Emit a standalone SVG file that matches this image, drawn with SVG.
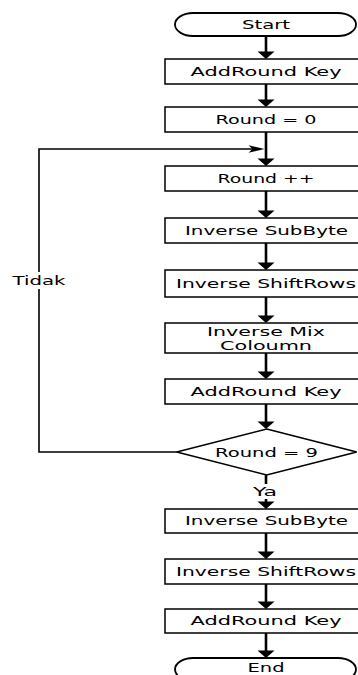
<svg xmlns="http://www.w3.org/2000/svg" width="358" height="675" viewBox="0 0 358 675">
<style>
.box{fill:#fff;stroke:#000;stroke-width:1.5}
.term{fill:#fff;stroke:#000;stroke-width:1.8}
.t{font-family:"DejaVu Sans",Verdana,sans-serif;font-size:12px;fill:#000;text-anchor:middle}
.shaft{stroke:#000;stroke-width:2.6;fill:none}
.loop{stroke:#000;stroke-width:1.6;fill:none}
.bg{fill:#fff}
</style>
<defs>
<path id="ah" d="M-8.5,-7.5 L8.5,-7.5 L0,0 Z" fill="#000"/>
<path id="ahr" d="M-16,-3.8 L0,0 L-16,3.8 L-12,0 Z" fill="#000"/>
</defs>
<rect width="358" height="675" fill="#fff"/>
<g id="connectors">
<line class="shaft" x1="266" y1="36" x2="266" y2="53"/><use href="#ah" x="266" y="59"/>
<line class="shaft" x1="266" y1="84" x2="266" y2="101"/><use href="#ah" x="266" y="107"/>
<line class="shaft" x1="266" y1="132" x2="266" y2="160"/><use href="#ah" x="266" y="166"/>
<line class="shaft" x1="266" y1="191" x2="266" y2="212"/><use href="#ah" x="266" y="218"/>
<line class="shaft" x1="266" y1="243" x2="266" y2="264"/><use href="#ah" x="266" y="270"/>
<line class="shaft" x1="266" y1="297" x2="266" y2="317"/><use href="#ah" x="266" y="323"/>
<line class="shaft" x1="266" y1="353" x2="266" y2="373"/><use href="#ah" x="266" y="379"/>
<line class="shaft" x1="266" y1="404" x2="266" y2="423"/><use href="#ah" x="266" y="429"/>
<line class="shaft" x1="266" y1="475" x2="266" y2="503"/><use href="#ah" x="266" y="509"/>
<line class="shaft" x1="266" y1="533" x2="266" y2="553"/><use href="#ah" x="266" y="559"/>
<line class="shaft" x1="266" y1="584" x2="266" y2="603"/><use href="#ah" x="266" y="609"/>
<line class="shaft" x1="266" y1="633" x2="266" y2="652"/><use href="#ah" x="266" y="658"/>
<polyline class="loop" points="177,452 39,452 39,149 255,149"/><use href="#ahr" x="264.5" y="149"/>
<rect class="bg" x="10" y="272" width="58" height="17"/>
<text class="t" x="39" y="285" textLength="53" lengthAdjust="spacingAndGlyphs">Tidak</text>
<rect class="bg" x="251" y="484" width="30" height="15"/>
<text class="t" x="265" y="496" textLength="24" lengthAdjust="spacingAndGlyphs">Ya</text>
</g>
<g id="start"><rect class="term" x="175" y="13" width="181" height="23" rx="18" ry="11.5"/><text class="t" x="266" y="29" textLength="48" lengthAdjust="spacingAndGlyphs">Start</text></g>
<g id="addkey1"><rect class="box" x="165" y="59" width="205" height="25"/><text class="t" x="266" y="75.5" textLength="151" lengthAdjust="spacingAndGlyphs">AddRound Key</text></g>
<g id="round0"><rect class="box" x="165" y="107" width="205" height="25"/><text class="t" x="266" y="124" textLength="101" lengthAdjust="spacingAndGlyphs">Round = 0</text></g>
<g id="roundinc"><rect class="box" x="165" y="166" width="205" height="25"/><text class="t" x="266" y="182.5" textLength="97" lengthAdjust="spacingAndGlyphs">Round ++</text></g>
<g id="subbyte1"><rect class="box" x="165" y="218" width="205" height="25"/><text class="t" x="266.5" y="234.5" textLength="163" lengthAdjust="spacingAndGlyphs">Inverse SubByte</text></g>
<g id="shiftrows1"><rect class="box" x="165" y="270" width="205" height="27"/><text class="t" x="266" y="288" textLength="180" lengthAdjust="spacingAndGlyphs">Inverse ShiftRows</text></g>
<g id="mixcol"><rect class="box" x="165" y="323" width="205" height="30"/><text class="t" x="266" y="336" textLength="118" lengthAdjust="spacingAndGlyphs">Inverse Mix</text><text class="t" x="266" y="349.5" textLength="92" lengthAdjust="spacingAndGlyphs">Coloumn</text></g>
<g id="addkey2"><rect class="box" x="165" y="379" width="205" height="25"/><text class="t" x="266" y="395.5" textLength="151" lengthAdjust="spacingAndGlyphs">AddRound Key</text></g>
<g id="decision"><polygon class="box" points="266.7,429 356.7,452 266.7,475 176.7,452"/><text class="t" x="266.5" y="456.5" textLength="103" lengthAdjust="spacingAndGlyphs">Round = 9</text></g>
<g id="subbyte2"><rect class="box" x="165" y="509" width="205" height="24"/><text class="t" x="266.5" y="525" textLength="163" lengthAdjust="spacingAndGlyphs">Inverse SubByte</text></g>
<g id="shiftrows2"><rect class="box" x="165" y="559" width="205" height="25"/><text class="t" x="266" y="575.5" textLength="180" lengthAdjust="spacingAndGlyphs">Inverse ShiftRows</text></g>
<g id="addkey3"><rect class="box" x="165" y="609" width="205" height="24"/><text class="t" x="266" y="625" textLength="151" lengthAdjust="spacingAndGlyphs">AddRound Key</text></g>
<g id="end"><rect class="term" x="175" y="658" width="181" height="23" rx="18" ry="11.5"/><text class="t" x="266" y="671.5" textLength="37" lengthAdjust="spacingAndGlyphs">End</text></g>
</svg>
